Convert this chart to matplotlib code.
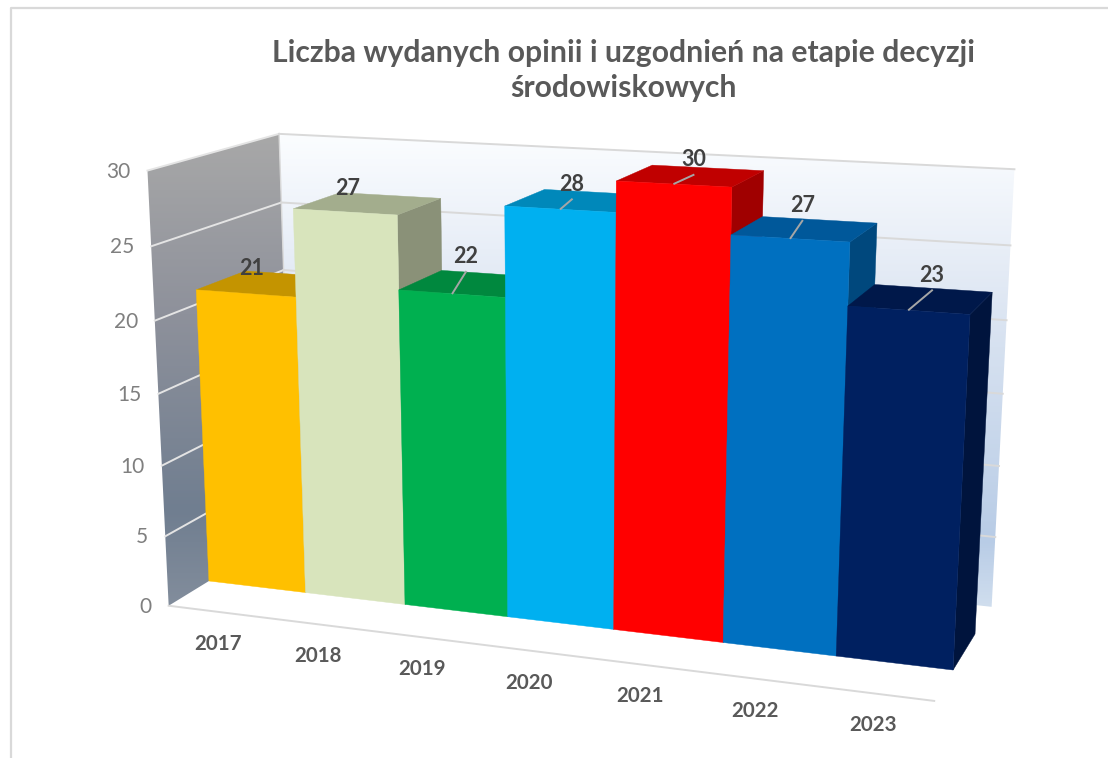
import numpy as np
import matplotlib.pyplot as plt
from matplotlib.colors import LinearSegmentedColormap
from matplotlib.patches import Polygon

plt.rcParams['font.family'] = ['Lato', 'DejaVu Sans']

# === data ===
years = ['2017', '2018', '2019', '2020', '2021', '2022', '2023']
values = [21, 27, 22, 28, 30, 27, 23]
y_ticks = [0, 5, 10, 15, 20, 25, 30]
title = 'Liczba wydanych opinii i uzgodnień na etapie decyzji\nśrodowiskowych'

# === style ===
c_front = ['#FFC000', '#D8E4BC', '#00B050', '#00B0F0', '#FF0000', '#0070C0', '#002060']
c_top = ['#C49400', '#A3AD8D', '#00883E', '#0088BA', '#C00000', '#00589A', '#00184A']
c_side = ['#A67D00', '#8A9178', '#00733A', '#00739E', '#A00000', '#00487D', '#00143D']
has_leader = [False, False, True, True, True, True, True]
label_shift = [(-42, -6), (-42, -7), (-27, -17), (-26, -8), (-14, -8), (-17, -14), (-1, -13)]
c_text = '#595959'
c_label = '#404040'
c_grid = '#D9D9D9'

# === camera: world (bar index, value, depth) -> pixels, depth 0/1 = bar front/back ===
anchors = [
    ((0, 0, 0), (209, 580)), ((7, 0, 0), (953, 670)), ((7, 0, 1), (975, 633)),
    ((0, 21, 0), (197, 290)), ((7, 23, 0), (970, 314)), ((7, 23, 1), (992, 292)),
    ((1, 27, 0), (293, 208)), ((2, 27, 0), (398, 215)), ((1, 27, 1), (337, 194)),
    ((2, 27, 1), (443, 198)), ((4, 30, 0), (616, 181)), ((5, 30, 0), (731, 187)),
    ((4, 30, 1), (653, 165)), ((5, 30, 1), (764, 171)), ((1, 0, 0), (305, 592)),
    ((2, 0, 0), (405, 605)), ((3, 0, 0), (508, 617)), ((4, 0, 0), (614, 630)),
    ((5, 0, 0), (723, 643)), ((6, 0, 0), (836, 657)),
]
A, b = [], []
for (x, y, z), (u, v) in anchors:
    A.append([x, y, z, 1, 0, 0, 0, 0, -u * x, -u * y, -u * z])
    A.append([0, 0, 0, 0, x, y, z, 1, -v * x, -v * y, -v * z])
    b += [u, v]
P = np.append(np.linalg.lstsq(np.array(A, float), np.array(b, float), rcond=None)[0], 1).reshape(3, 4)


def project(x, y, z):
    q = P @ np.array([x, y, z, 1.0])
    return q[0] / q[2], q[1] / q[2]


def depth_near(x, y, target):
    zs = np.linspace(-4, 6, 2001)
    d = [np.hypot(*(np.array(project(x, y, z)) - target)) for z in zs]
    return zs[int(np.argmin(d))]


z_front = depth_near(7, 0, (936, 702))
z_back = depth_near(7, 0, (992, 607))

fig = plt.figure(figsize=(11.08, 7.58), dpi=100)
ax = fig.add_axes([0, 0, 1, 1])
ax.axis('off')


def wall(corners, stops, y0, y1, zorder=1):
    cmap = LinearSegmentedColormap.from_list('w', stops)
    im = ax.imshow(np.linspace(0, 1, 256).reshape(-1, 1), cmap=cmap, aspect='auto',
                   extent=(0, 1108, y1, y0), zorder=zorder)
    im.set_clip_path(Polygon(corners, transform=ax.transData))


left = [project(0, 30, z_front), project(0, 30, z_back), project(0, 0, z_back), project(0, 0, z_front)]
back = [project(0, 30, z_back), project(7, 30, z_back), project(7, 0, z_back), project(0, 0, z_back)]
wall(left, [(0, '#A8A8A8'), (0.38, '#8E919B'), (0.8, '#707E90'), (1, '#828D9C')], 135, 605)
wall(back, [(0, '#FBFDFF'), (0.24, '#E8EEF7'), (0.45, '#D6E1F0'), (0.86, '#B8CCE6'), (1, '#D0DEEE')], 135, 607)

# gridlines on both walls
for t in y_ticks[1:]:
    p0, p1, p2 = project(0, t, z_front), project(0, t, z_back), project(7, t, z_back)
    ax.plot([p0[0], p1[0]], [p0[1], p1[1]], color='#E4E4E4', lw=1.4, zorder=2)
    ax.plot([p1[0], p2[0]], [p1[1], p2[1]], color=c_grid, lw=1.4, zorder=2)
p = np.array([project(0, 0, z_back), project(0, 30, z_back)])
ax.plot(p[:, 0], p[:, 1], color=c_grid, lw=1.0, zorder=2)
p = np.array([project(0, 0, z_front), project(7, 0, z_front)])
ax.plot(p[:, 0], p[:, 1], color=c_grid, lw=1.4, zorder=2)

# bars, painted left to right
for i, v in enumerate(values):
    fbl, fbr = project(i, 0, 0), project(i + 1, 0, 0)
    ftl, ftr = project(i, v, 0), project(i + 1, v, 0)
    bbr, btl, btr = project(i + 1, 0, 1), project(i, v, 1), project(i + 1, v, 1)
    z = 3 + i
    ax.add_patch(Polygon([fbr, bbr, btr, ftr], fc=c_side[i], ec=c_side[i], lw=0.3, zorder=z))
    ax.add_patch(Polygon([ftl, btl, btr, ftr], fc=c_top[i], ec=c_top[i], lw=0.3, zorder=z))
    ax.add_patch(Polygon([fbl, fbr, ftr, ftl], fc=c_front[i], ec=c_front[i], lw=0.3, zorder=z))

# data labels
for i, v in enumerate(values):
    f = project(i + 0.5, v, 0.02)
    e = project(i + 0.5, v, 1)
    tx, ty = e[0] + label_shift[i][0], e[1] + label_shift[i][1]
    if has_leader[i]:
        ax.plot([f[0], tx], [f[1], ty + 15], color='#A6A6A6', lw=1.4, zorder=20)
    ax.text(tx, ty, str(v), ha='center', va='center',
            fontsize=15.5, fontweight='bold', color=c_label, zorder=21)

# axis labels
for t in y_ticks:
    u, w = project(0, t, z_front)
    ax.text(u - 17, w + 1, str(t), ha='right', va='center', fontsize=15, color='#7F7F7F', zorder=21)
for i, name in enumerate(years):
    u, w = project(i + 0.5, 0, z_front)
    ax.text(u, w + 32, name, ha='center', va='center', fontsize=14.8, fontweight='bold',
            color=c_text, zorder=21)

ax.text(623, 70.5, title, ha='center', va='center', fontsize=21.7, fontweight='bold',
        color=c_text, linespacing=1.31, zorder=21)

# chart frame, only top and left are inside the crop
ax.plot([10.5, 10.5, 1108], [758, 8, 8], color=c_grid, lw=1.6, zorder=21)

ax.set_xlim(0, 1108)
ax.set_ylim(758, 0)
fig.savefig('out.png', dpi=100)
